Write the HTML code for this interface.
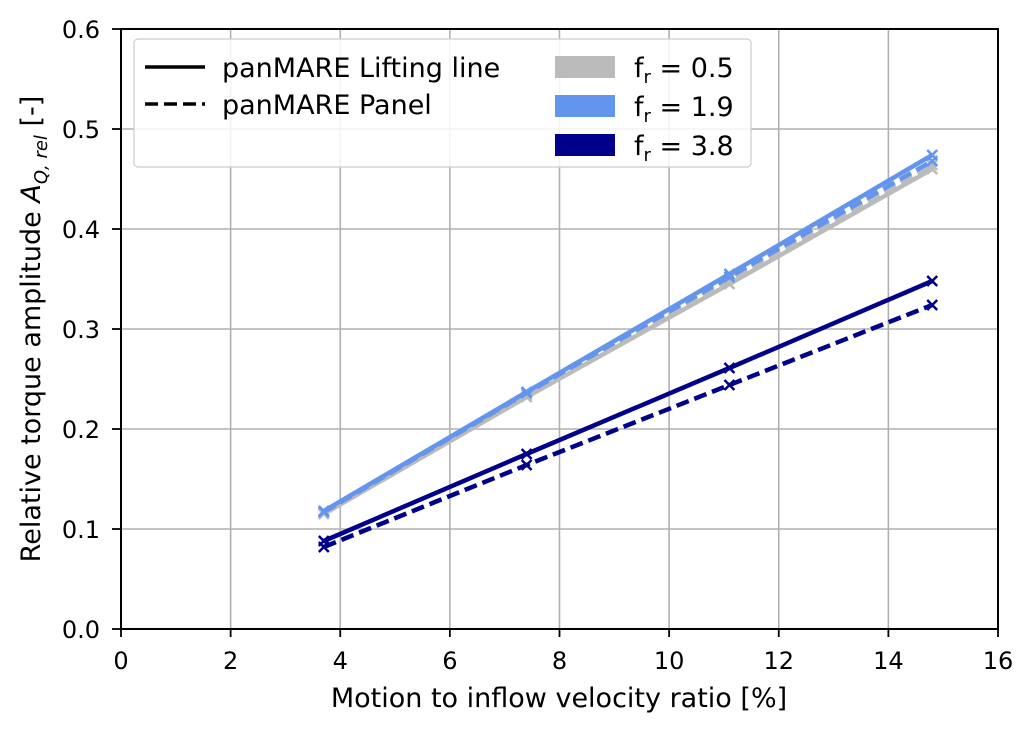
<!DOCTYPE html>
<html><head><meta charset="utf-8"><style>
body{margin:0;background:#fff}
svg{display:block;font-family:"DejaVu Sans","Liberation Sans",sans-serif}
</style></head><body>
<svg id="chart" width="1033" height="731">
<g id="grid"></g>
<g id="series"></g>
<rect x="121" y="29" width="877" height="600" fill="none" stroke="#000" stroke-width="2"/>
<g id="ticks"></g>
<text x="559" y="707" font-size="27" text-anchor="middle">Motion to inflow velocity ratio [%]</text>
<text transform="translate(40,329) rotate(-90)" font-size="27" text-anchor="middle">Relative torque amplitude <tspan font-style="italic">A</tspan><tspan font-style="italic" font-size="18" dy="7">Q, rel</tspan><tspan dy="-7"> [-]</tspan></text>
<g>
<rect x="134" y="39" width="617" height="128" rx="4" fill="#fff" fill-opacity="0.85" stroke="#ccc" stroke-width="1.2"/>
<line x1="145" y1="67" x2="205" y2="67" stroke="#000" stroke-width="3.5"/>
<text x="222" y="77" font-size="27">panMARE Lifting line</text>
<line x1="145" y1="104" x2="205" y2="104" stroke="#000" stroke-width="3.5" stroke-dasharray="13,6"/>
<text x="222" y="114" font-size="27">panMARE Panel</text>
<rect x="555" y="56" width="60" height="22" fill="#bbbbbb"/>
<text x="634" y="77" font-size="27">f<tspan font-size="18" dy="6">r</tspan><tspan dy="-6"> = 0.5</tspan></text>
<rect x="555" y="95" width="60" height="22" fill="#6495ed"/>
<text x="634" y="116" font-size="27">f<tspan font-size="18" dy="6">r</tspan><tspan dy="-6"> = 1.9</tspan></text>
<rect x="555" y="134" width="60" height="22" fill="#00008b"/>
<text x="634" y="155" font-size="27">f<tspan font-size="18" dy="6">r</tspan><tspan dy="-6"> = 3.8</tspan></text>
</g>
</svg>
<script>
const xVals=[3.7,7.4,11.1,14.8];
const grayLL=[0.115,0.232,0.345,0.460];
const grayPanel=[0.116,0.234,0.350,0.464];
const blueLL=[0.118,0.237,0.355,0.474];
const bluePanel=[0.117,0.236,0.352,0.468];
const navyLL=[0.088,0.175,0.261,0.348];
const navyPanel=[0.082,0.164,0.244,0.324];
const xTicks=[0,2,4,6,8,10,12,14,16];
const yTicks=[0,0.1,0.2,0.3,0.4,0.5,0.6];
const NS="http://www.w3.org/2000/svg";
const sx=v=>121+v*(877/16), sy=v=>629-v*1000;
function mk(t,a,p){const e=document.createElementNS(NS,t);for(const k in a)e.setAttribute(k,a[k]);p.appendChild(e);return e;}
const grid=document.getElementById('grid'),ticks=document.getElementById('ticks'),ser=document.getElementById('series');
xTicks.forEach(t=>{const x=sx(t);
 const g=mk('line',{x1:x,x2:x,y1:29,y2:629,stroke:'#b0b0b0','stroke-width':1.6},grid);
 
 mk('line',{x1:x,x2:x,y1:629,y2:637,stroke:'#000','stroke-width':1.8},ticks);
 const tx=mk('text',{x:x,y:669,'font-size':24,'text-anchor':'middle'},ticks);tx.textContent=t;
 });
yTicks.forEach(t=>{const y=sy(t);
 const g=mk('line',{x1:121,x2:998,y1:y,y2:y,stroke:'#b0b0b0','stroke-width':1.6},grid);
 
 mk('line',{x1:112,x2:121,y1:y,y2:y,stroke:'#000','stroke-width':1.8},ticks);
 const tx=mk('text',{x:100,y:y+9,'font-size':24,'text-anchor':'end'},ticks);tx.textContent=t.toFixed(1);
 });
function series(vals,color,dash,name){
 const pts=xVals.map((x,i)=>sx(x)+','+sy(vals[i])).join(' ');
 const a={points:pts,fill:'none',stroke:color,'stroke-width':4.5};if(dash)a['stroke-dasharray']=dash;
 const p=mk('polyline',a,ser);
 
 xVals.forEach((x,i)=>{const cx=sx(x),cy=sy(vals[i]),s=5;
  const m=mk('path',{d:`M${cx-s},${cy-s}L${cx+s},${cy+s}M${cx-s},${cy+s}L${cx+s},${cy-s}`,stroke:color,'stroke-width':2.5},ser);
  });
}
series(grayLL,'#bbbbbb',null,'line-fr-0.5-lifting');
series(grayPanel,'#bbbbbb','13,6','line-fr-0.5-panel');
series(blueLL,'#6495ed',null,'line-fr-1.9-lifting');
series(bluePanel,'#6495ed','13,6','line-fr-1.9-panel');
series(navyLL,'#00008b',null,'line-fr-3.8-lifting');
series(navyPanel,'#00008b','13,6','line-fr-3.8-panel');
</script>
</body></html>
